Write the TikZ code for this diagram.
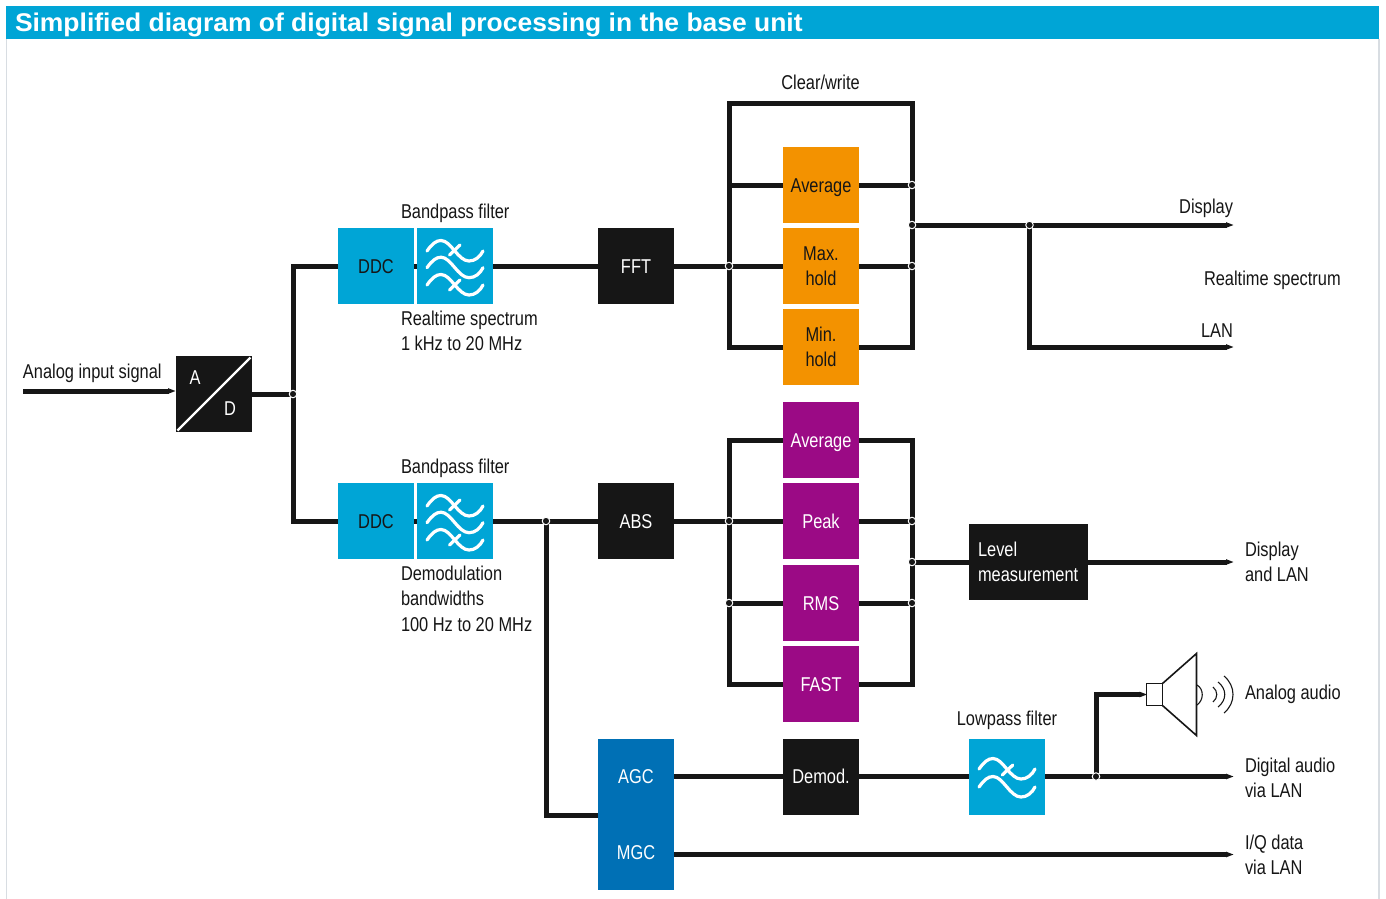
\documentclass[tikz,border=0pt]{standalone}
\usepackage{fontspec}
\setmainfont[FakeStretch=0.82]{Liberation Sans}
\newfontfamily\titlefont[FakeStretch=1.033]{Liberation Sans}
\usetikzlibrary{arrows.meta}
\definecolor{ink}{HTML}{161616}
\definecolor{skyb}{HTML}{00A5D6}
\definecolor{darkb}{HTML}{0070B5}
\definecolor{orng}{HTML}{F39200}
\definecolor{purp}{HTML}{9B0A85}
\definecolor{edge}{HTML}{D8DDE2}
\tikzset{
  x=1pt,y=-1pt,
  every node/.style={font=\fontsize{20}{25.5}\selectfont,text=ink,inner sep=0pt,outer sep=0pt},
  oneline/.style={text height=14pt,text depth=0pt},
  box/.style={minimum width=76pt,minimum height=76pt,align=center},
  blackbox/.style={box,fill=ink,text=white},
  bluebox/.style={box,fill=skyb,text=ink},
  orangebox/.style={box,fill=orng,text=ink},
  purplebox/.style={box,fill=purp,text=white},
  label/.style={anchor=west,align=left},
  slabel/.style={anchor=west,oneline},
  rlabel/.style={anchor=east,oneline},
  wire/.style={draw=ink,line width=5pt,line join=miter},
  feed/.style={wire,-{Triangle[length=8pt,width=5pt]},shorten >=-1pt},
  spk/.style={draw=ink,line width=1.6pt,line join=miter},
  sound/.style={draw=ink,line width=1.1pt},
  wavy/.style={draw=white,line width=3.2pt,line cap=round},
  junction/.style={circle,draw=white,fill=ink,line width=1pt,minimum size=7.5pt},
  pics/wave/.style={code={
    \draw[wavy] (-28,0) .. controls (-23,-7) and (-19,-10.5) .. (-14,-10.5)
       .. controls (-4,-10.5) and (3,10) .. (14,10)
       .. controls (20,10) and (25,6) .. (28,0);}},
  pics/tick/.style={code={\draw[wavy] (-5.5,5) -- (5,-5);}},
}
\begin{document}
\begin{tikzpicture}
\useasboundingbox (0,0) rectangle (1386,899);
\fill[white] (0,0) rectangle (1386,899);
% frame and title
\draw[edge,line width=1.4pt] (6.7,39) -- (6.7,899);
\draw[edge,line width=1.4pt] (1379,39) -- (1379,899);
\node[fill=skyb,minimum width=1373pt,minimum height=33pt,anchor=north west] (titlebar) at (6,6) {};
\node[anchor=west,text=white,font=\titlefont\bfseries\fontsize{25.6}{30}\selectfont] (title) at (15,24.5) {Simplified diagram of digital signal processing in the base unit};

% blocks
\node[blackbox] (ad) at (214,394) {};
\draw[white,line width=2.4pt] (177.5,430.5) -- (250.5,357.5);
\node[text=white,oneline] (adA) at (195,377.5) {A};
\node[text=white,oneline] (adD) at (230,408.5) {D};

\node[bluebox,oneline] (ddc1) at (376,266) {DDC};
\node[bluebox] (bp1) at (455,266) {};
\node[blackbox,oneline] (fft) at (636,266) {FFT};
\node[orangebox,oneline] (avg1) at (821,185) {Average};
\node[orangebox] (max1) at (821,266) {Max.\\hold};
\node[orangebox] (min1) at (821,347) {Min.\\hold};

\node[bluebox,oneline] (ddc2) at (376,521) {DDC};
\node[bluebox] (bp2) at (455,521) {};
\node[blackbox,oneline] (abs) at (636,521) {ABS};
\node[purplebox,oneline] (avg2) at (821,440) {Average};
\node[purplebox,oneline] (peak) at (821,521) {Peak};
\node[purplebox,oneline] (rms) at (821,603) {RMS};
\node[purplebox,oneline] (fast) at (821,684) {FAST};
\node[blackbox,minimum width=119pt,align=left,text width=101pt] (level) at (1028.5,562) {Level\\measurement};

\node[fill=darkb,minimum width=76pt,minimum height=151pt] (mix) at (636,814.5) {};
\node[text=white,oneline] (agc) at (636,776) {AGC};
\node[text=white,oneline] (mgc) at (636,852) {MGC};
\node[blackbox,oneline] (demod) at (821,776.5) {Demod.};
\node[bluebox] (lp) at (1007,776.5) {};

% filter symbols
\pic at (455,251) {wave};
\pic at (455,267.7) {wave};
\pic at (455,285) {wave};
\pic at (455,250) {tick};
\pic at (455,285) {tick};
\pic at (455,506) {wave};
\pic at (455,522.7) {wave};
\pic at (455,540) {wave};
\pic at (455,505) {tick};
\pic at (455,540) {tick};
\pic at (1007,769) {wave};
\pic at (1007,787) {wave};
\pic at (1007.8,770) {tick};

% speaker
\node[draw=ink,line width=1.6pt,fill=white,minimum width=16pt,minimum height=22pt] (horn) at (1154.5,694.5) {};
\draw[spk] (horn.north east) -- (1196.5,653.5) -- (1196.5,735.5) -- (horn.south east);
\draw[sound] (1197,685) .. controls (1204,689) and (1204,700) .. (1197,705);
\draw[sound] (1213,687) .. controls (1218,691) and (1218,698) .. (1213,702);
\draw[sound] (1218,682) .. controls (1227,689) and (1227,700) .. (1218,707);
\draw[sound] (1224,676) .. controls (1236,686) and (1236,703) .. (1224,713);

% coordinates
\coordinate (inS) at (23,391);
\coordinate (inE) at (175,391);
\coordinate (j1) at (293,394);
\coordinate (tl1) at (729,103);
\coordinate (tr1) at (912,103);
\coordinate (j2) at (729,266);
\coordinate (j3) at (912,185);
\coordinate (j4) at (912,225);
\coordinate (j5) at (912,266);
\coordinate (j6) at (1029.5,225);
\coordinate (disp) at (1233,225);
\coordinate (lan) at (1233,347);
\coordinate (tl2) at (729,440);
\coordinate (tr2) at (912,440);
\coordinate (j7) at (546,521);
\coordinate (j8) at (729,521);
\coordinate (j9) at (912,521);
\coordinate (j10) at (912,562);
\coordinate (j11) at (729,603);
\coordinate (j12) at (912,603);
\coordinate (j13) at (1096,776.5);
\coordinate (lvlout) at (1233,562);
\coordinate (digi) at (1233,776.5);
\coordinate (iq) at (1233,854.5);
\coordinate (mgcout) at (674,854.5);
\coordinate (agcin) at (598,815);

% connectors
\draw[feed] (inS) -- (inE);
\draw[wire] (ad.east) -- (j1);
\draw[wire] (ddc1.west) -| (j1) |- (ddc2.west);
\draw[wire] (ddc1.east) -- (bp1.west);
\draw[wire] (bp1.east) -- (fft.west);
\draw[wire] (fft.east) -- (max1.west);
\draw[wire] (max1.east) -- (j5);
\draw[wire] (min1.west) -| (tl1) -- (tr1) |- (min1.east);
\draw[wire] (avg1.west) -- (avg1.west -| tl1);
\draw[wire] (avg1.east) -- (j3);
\draw[feed] (j4) -- (disp);
\draw[feed] (j6) |- (lan);

\draw[wire] (ddc2.east) -- (bp2.west);
\draw[wire] (bp2.east) -- (abs.west);
\draw[wire] (abs.east) -- (peak.west);
\draw[wire] (peak.east) -- (j9);
\draw[wire] (fast.west) -| (tl2) -- (avg2.west);
\draw[wire] (fast.east) -| (tr2) -- (avg2.east);
\draw[wire] (rms.west) -- (j11);
\draw[wire] (rms.east) -- (j12);
\draw[wire] (j10) -- (level.west);
\draw[feed] (level.east) -- (lvlout);
\draw[wire] (j7) |- (agcin);

\draw[wire] (demod.west -| mix.east) -- (demod.west);
\draw[wire] (demod.east) -- (lp.west);
\draw[feed] (lp.east) -- (digi);
\draw[feed] (j13) |- (horn.west);
\draw[feed] (mgcout) -- (iq);

% junctions
\foreach \j in {j1,j2,j3,j4,j5,j6,j7,j8,j9,j10,j11,j12,j13}
  \node[junction] (dot\j) at (\j) {};

% labels
\node[oneline] (lclear) at (820.5,82) {Clear/write};
\node[rlabel] (ldisp) at (1233,206.5) {Display};
\node[slabel] (lrt) at (1204,278.5) {Realtime spectrum};
\node[rlabel] (llan) at (1233,330.5) {LAN};
\node[slabel] (lbp1) at (401,211.5) {Bandpass filter};
\node[label] (lrt1) at (401,330.8) {Realtime spectrum\\1 kHz to 20 MHz};
\node[slabel] (lain) at (23,371.5) {Analog input signal};
\node[slabel] (lbp2) at (401,466.5) {Bandpass filter};
\node[label] (ldem) at (401,598.5) {Demodulation\\bandwidths\\100 Hz to 20 MHz};
\node[label] (ldl) at (1245,561.8) {Display\\and LAN};
\node[slabel] (laa) at (1245,692.5) {Analog audio};
\node[label] (lda) at (1245,777.8) {Digital audio\\via LAN};
\node[label] (liq) at (1245,855) {I/Q data\\via LAN};
\node[oneline] (llp) at (1007,718.5) {Lowpass filter};
\end{tikzpicture}
\end{document}
